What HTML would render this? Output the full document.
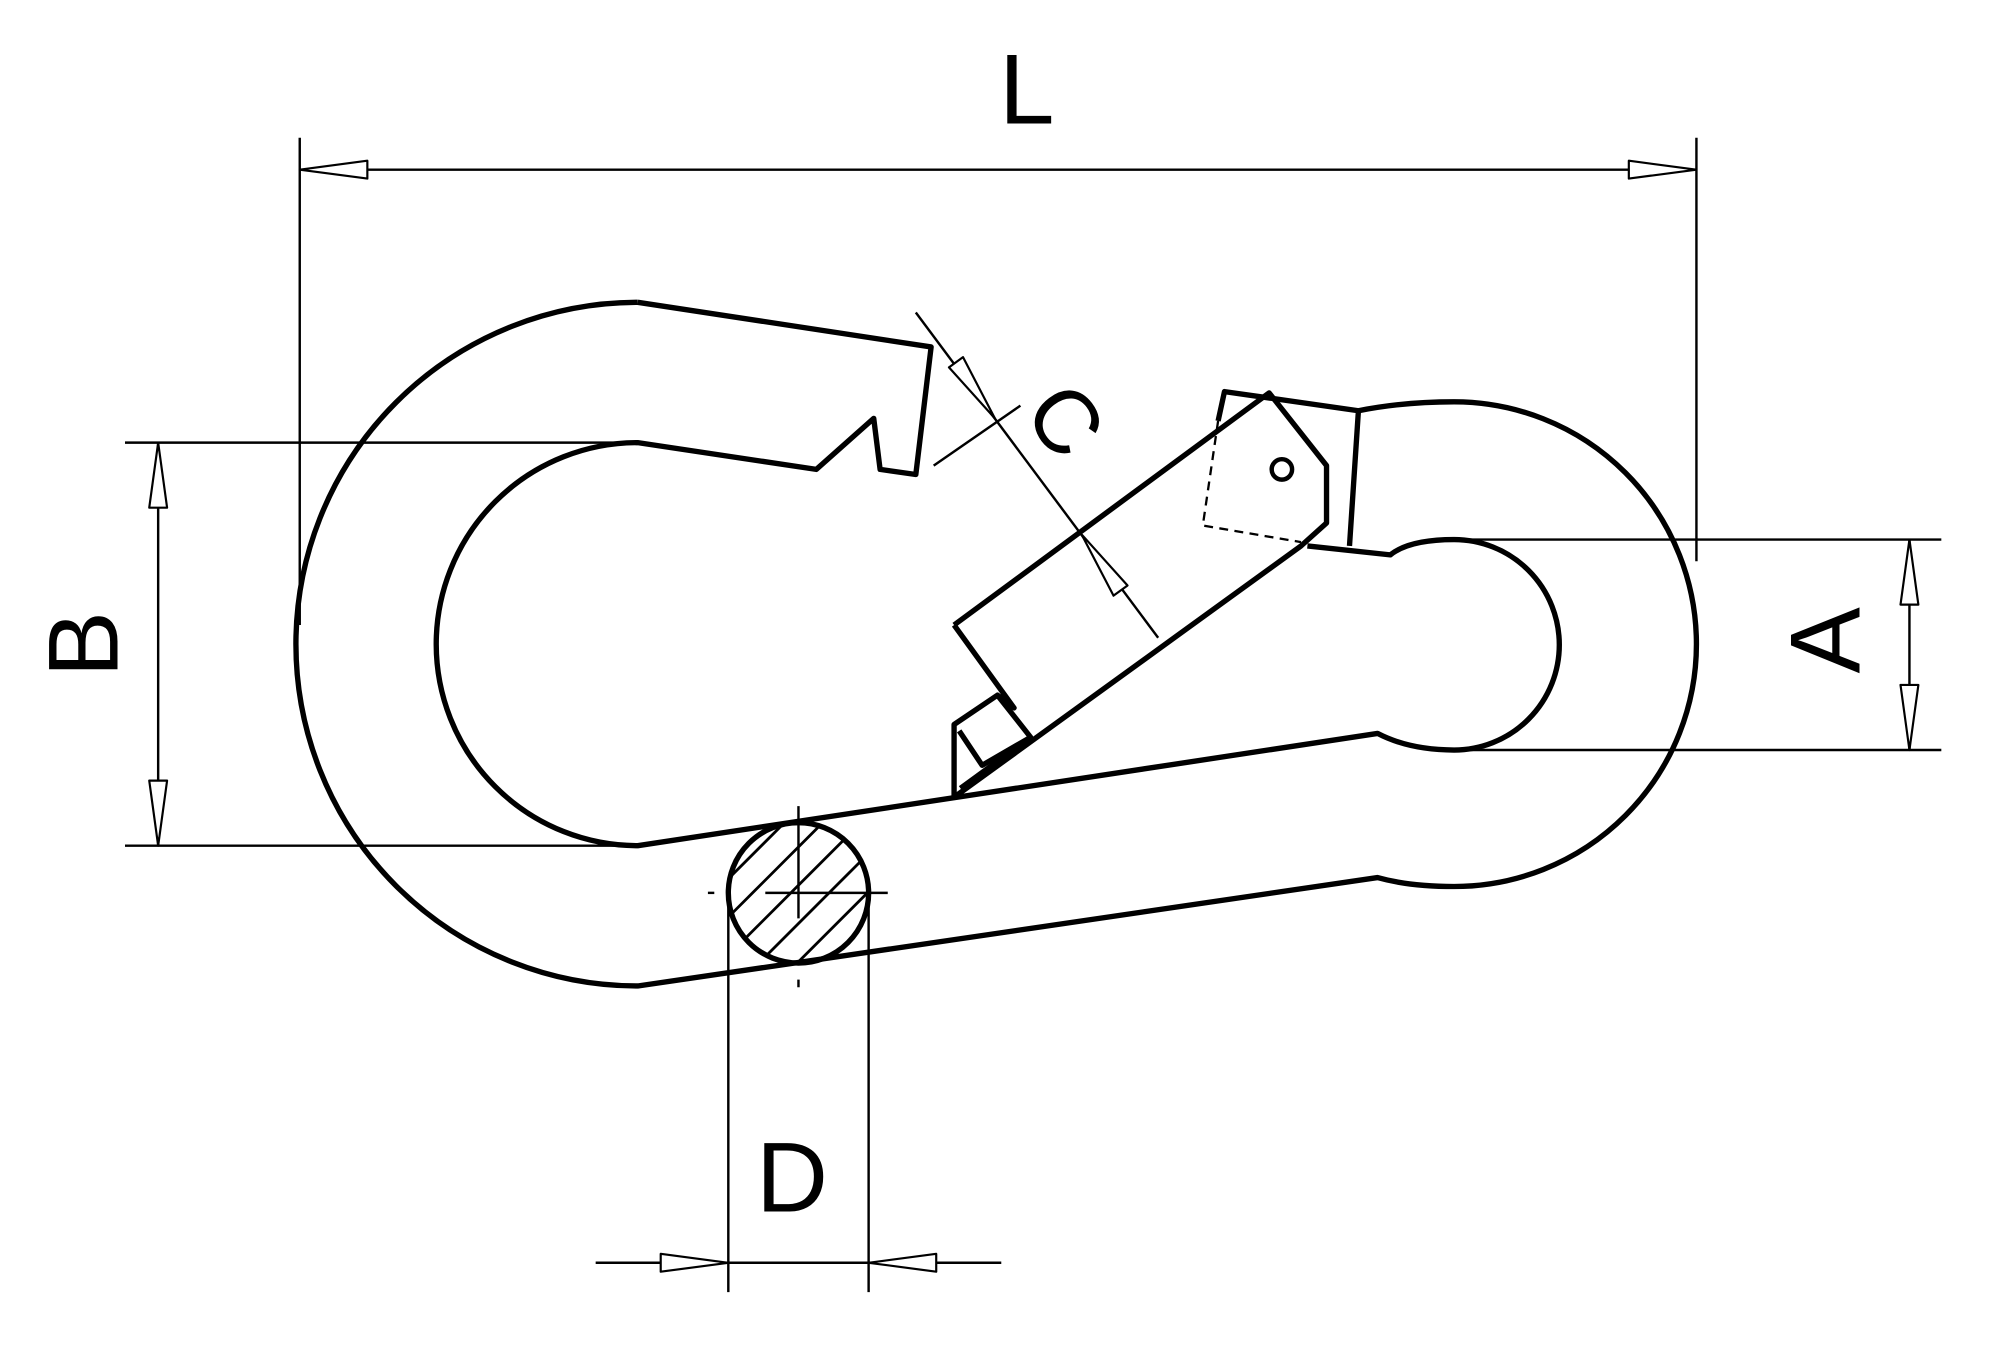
<!DOCTYPE html>
<html><head><style>html,body{margin:0;padding:0;background:#fff}svg{display:block}</style></head><body>
<svg width="2000" height="1361" viewBox="0 0 1568 1067" xmlns="http://www.w3.org/2000/svg">
<defs>
<clipPath id="cc"><circle cx="626" cy="700" r="55"/></clipPath>
</defs>
<g fill="none" stroke="#000" stroke-linejoin="round">
<g stroke-width="1.9">
<line x1="235" y1="108" x2="235" y2="490"/>
<line x1="1330" y1="108" x2="1330" y2="440"/>
<line x1="235" y1="133" x2="1330" y2="133"/>
<line x1="98" y1="347" x2="500" y2="347"/>
<line x1="98" y1="663" x2="500" y2="663"/>
<line x1="124" y1="347" x2="124" y2="663"/>
<line x1="1140" y1="423" x2="1522" y2="423"/>
<line x1="1140" y1="588" x2="1522" y2="588"/>
<line x1="1497" y1="423" x2="1497" y2="588"/>
<line x1="571" y1="700" x2="571" y2="1013"/>
<line x1="681" y1="700" x2="681" y2="1013"/>
<line x1="467" y1="990" x2="785" y2="990"/>
<line x1="718" y1="245" x2="908" y2="500"/>
<line x1="732" y1="365" x2="800" y2="318"/>
<line x1="626" y1="632" x2="626" y2="720"/>
<line x1="600" y1="700" x2="696" y2="700"/>
<line x1="555" y1="700" x2="560" y2="700"/>
<line x1="626" y1="768" x2="626" y2="774"/>
</g>
<g stroke-width="1.7" fill="#fff">
<polygon points="235,133 288,126 288,140"/>
<polygon points="1330,133 1277,126 1277,140"/>
<polygon points="124,347 117,398 131,398"/>
<polygon points="124,663 117,612 131,612"/>
<polygon points="1497,423 1490,474 1504,474"/>
<polygon points="1497,588 1490,537 1504,537"/>
<polygon points="571,990 518,983 518,997"/>
<polygon points="681,990 734,983 734,997"/>
<polygon points="780,328 744,288 755,280"/>
<polygon points="848,419 884,459 873,467"/>
</g>
<g stroke-width="2.2" clip-path="url(#cc)">
<line x1="560" y1="700" x2="640" y2="620"/>
<line x1="560" y1="730" x2="660" y2="630"/>
<line x1="575" y1="745" x2="675" y2="645"/>
<line x1="590" y1="760" x2="690" y2="660"/>
<line x1="605" y1="775" x2="705" y2="675"/>
<line x1="620" y1="790" x2="720" y2="690"/>
</g>
<circle cx="626" cy="700" r="55" stroke-width="4.2"/>
<g stroke-width="4.2">
<path d="M500,237 A268,268 0 0 0 500,773 L1080,688 Q1105,695 1140,695 A190,190 0 0 0 1140,315 Q1100,315 1065,322"/>
<path d="M500,237 L730,272 L718,372 L690,368 L685,328 L640,368 L500,347 A158,158 0 0 0 500,663 L1080,575 Q1105,588 1140,588 A82.5,82.5 0 0 0 1140,423 Q1105,423 1090,435 L1025,428"/>
<path d="M748,490 L995,308 L1040,365 L1040,410 L1020,428 L748,625 L748,568 L782,545 L795,555 L748,490"/>
<path d="M782,545 L808,578 L770,600 L752,573"/>
<line x1="753" y1="618" x2="808" y2="578"/>
<path d="M955,330 L960,307 L1065,322 L1058,428"/>
<circle cx="1005" cy="368" r="8" stroke-width="3.5"/>
</g>
<path d="M955,330 L943,412 L1020,425" stroke-width="1.8" stroke-dasharray="7,5"/>
</g>
<g font-family="Liberation Sans, sans-serif" font-size="78" fill="#000" text-anchor="middle">
<text x="805" y="97">L</text>
<text x="621" y="950">D</text>
<text transform="translate(92,505) rotate(-90)">B</text>
<text transform="translate(1458,502) rotate(-90)">A</text>
<text transform="translate(836,329) rotate(53)" font-size="70" dy="25">C</text>
</g>
</svg>
</body></html>
